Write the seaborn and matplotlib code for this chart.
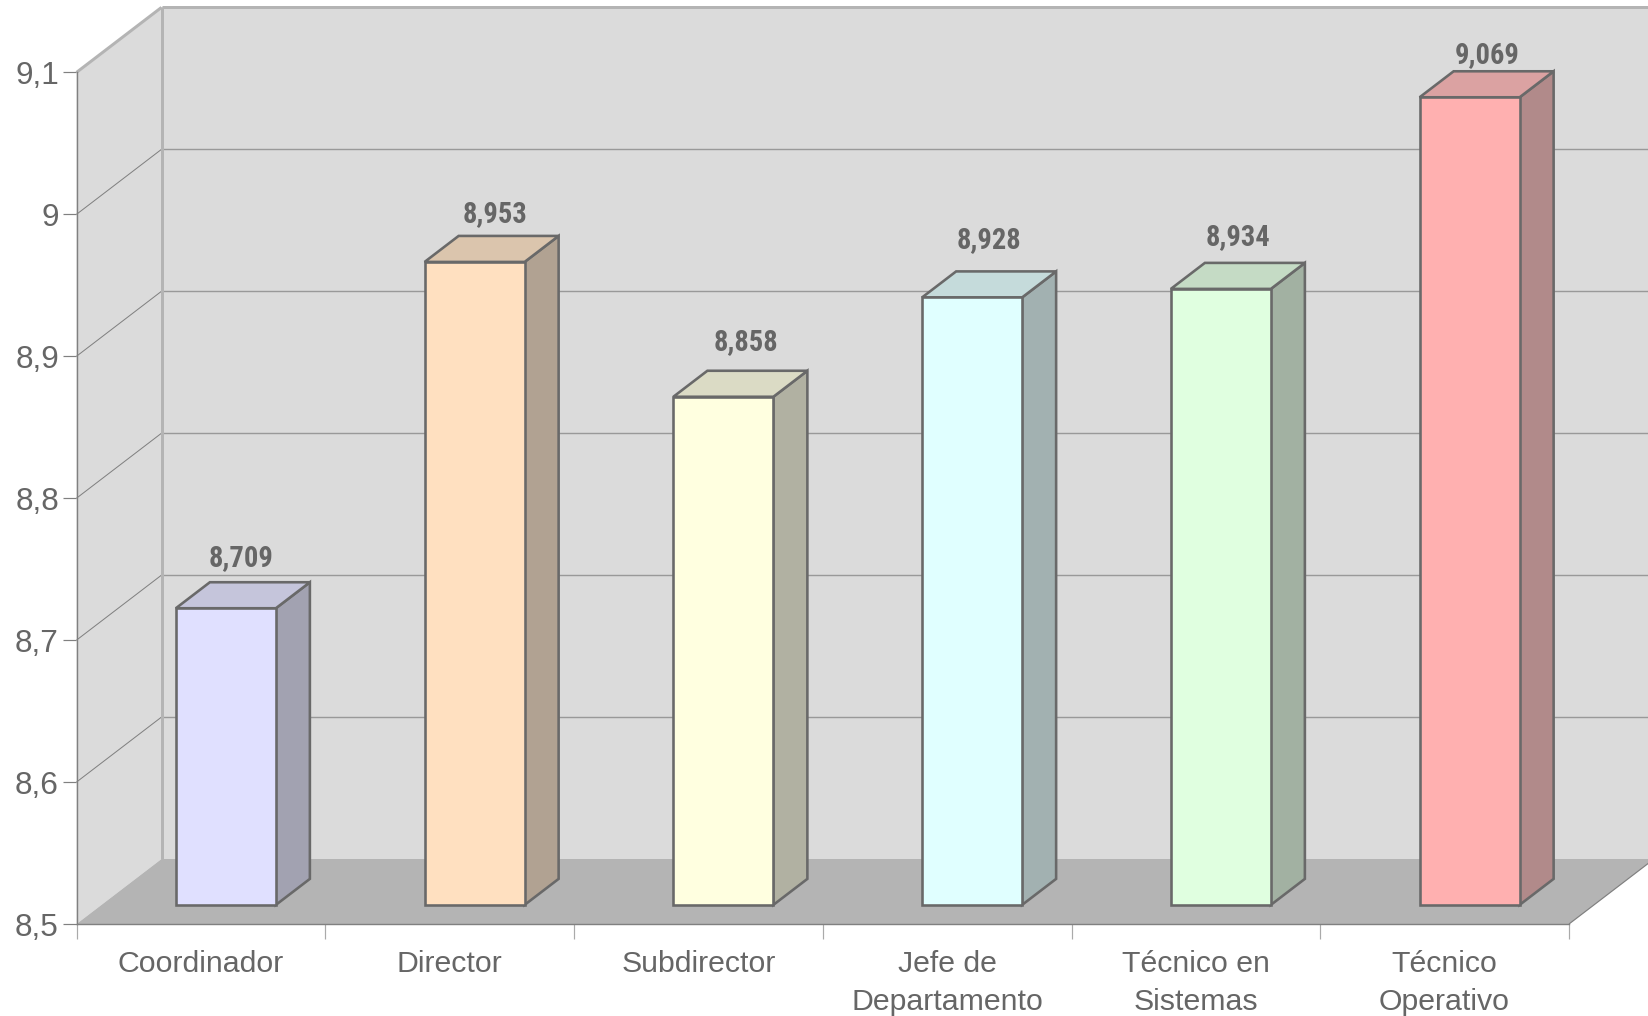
import matplotlib
matplotlib.use("Agg")
import matplotlib.pyplot as plt
import seaborn as sns
import pandas as pd
from matplotlib.patches import Polygon
from matplotlib.colors import to_rgb

categories = ["Coordinador", "Director", "Subdirector", "Jefe de\nDepartamento",
              "Técnico en\nSistemas", "Técnico\nOperativo"]
values = [8.709, 8.953, 8.858, 8.928, 8.934, 9.069]
value_labels = ["8,709", "8,953", "8,858", "8,928", "8,934", "9,069"]
y_ticks = [8.5, 8.6, 8.7, 8.8, 8.9, 9.0, 9.1]
y_tick_labels = ["8,5", "8,6", "8,7", "8,8", "8,9", "9", "9,1"]
front_colors = ["#e0e0ff", "#ffe0c0", "#ffffe0", "#e0ffff", "#e0ffe0", "#ffb0b0"]

W, H, DPI = 1648, 1016, 100
PX = 72 / DPI
L, R, B, T = 76.5, 1569.0, 924.0, 72.4
TEXT = "#666666"
EDGE = "#696969"

sns.set_style("white")
plt.rcParams["font.family"] = ["Liberation Sans", "DejaVu Sans"]

fig = plt.figure(figsize=(W / DPI, H / DPI), dpi=DPI, facecolor="white")
ax = fig.add_axes([L / W, 1 - B / H, (R - L) / W, (B - T) / H])
ax.patch.set_visible(False)

df = pd.DataFrame({"cat": categories, "val": values})
sns.barplot(data=df, x="cat", y="val", hue="cat", palette=front_colors, width=0.402,
            dodge=False, legend=False, saturation=1, edgecolor=EDGE, linewidth=2.6 * PX,
            ax=ax, zorder=6)
bars = sorted(ax.patches, key=lambda b: b.get_x())
ax.set_xlim(-0.5, 5.5)
ax.set_ylim(8.5, 9.1)
ax.set_xlabel("")
ax.set_ylabel("")

# depth of the box, in data units
unit_x = (R - L) / 6
unit_y = (B - T) / 0.6
DX, DY = 85 / unit_x, 65 / unit_y


def pt(x, y, d):
    return (x + d * DX, y + d * DY)


def poly(points, **kw):
    kw.setdefault("clip_on", False)
    ax.add_patch(Polygon(points, closed=True, **kw))


x0, x1, y0, y1 = -0.5, 5.5, 8.5, 9.1
WALL, FLOOR, BORDER, GRID = "#dbdbdb", "#b4b4b4", "#b4b4b4", "#999999"
# walls and floor
poly([pt(x0, y0, 1), pt(x1, y0, 1), pt(x1, y1, 1), pt(x0, y1, 1)], fc=WALL, ec="none", zorder=1)
poly([pt(x0, y0, 0), pt(x0, y0, 1), pt(x0, y1, 1), pt(x0, y1, 0)], fc=WALL, ec="none", zorder=1)
poly([pt(x0, y0, 0), pt(x1, y0, 0), pt(x1, y0, 1), pt(x0, y0, 1)], fc=FLOOR, ec="none", zorder=1.5)


def seg(a, b, **kw):
    ax.plot([a[0], b[0]], [a[1], b[1]], clip_on=False, solid_capstyle="butt", **kw)


for yt in y_ticks[1:-1]:
    seg(pt(x0, yt, 1), pt(x1, yt, 1), color=GRID, lw=1.4 * PX, zorder=2)
    seg(pt(x0, yt, 0), pt(x0, yt, 1), color="#808080", lw=1.0 * PX, zorder=2)
seg(pt(x0, y0, 1), pt(x0, y1, 1), color=BORDER, lw=3 * PX, zorder=2.2)
seg(pt(x0, y1, 1), pt(x1, y1, 1), color=BORDER, lw=3 * PX, zorder=2.2)
seg(pt(x0, y1, 0), pt(x0, y1, 1), color=BORDER, lw=3 * PX, zorder=2.2)
seg(pt(x1, y0, 0), pt(x1, y0, 1), color="#808080", lw=1.2 * PX, zorder=2.2)

# bars: shift the seaborn faces into the box and add side and top faces
D_FRONT, D_BACK = 25 / 85, 59 / 85
label_dx = [15, 20, 23, 17, 17, 18]
label_dy = [24, 22, 29, 32, 26, 17]
for i, (bar, val) in enumerate(zip(bars, values)):
    xl = bar.get_x()
    xr = xl + bar.get_width()
    rgb = to_rgb(front_colors[i])
    bar.set_x(xl + D_FRONT * DX)
    bar.set_y(y0 + D_FRONT * DY)
    bar.set_height(val - y0)
    bar.set_clip_on(False)
    bar.set_joinstyle("miter")
    side = tuple(c * 0.49 + 0.204 for c in rgb)
    top = tuple(c * 0.73 + 0.13 for c in rgb)
    poly([pt(xr, y0, D_FRONT), pt(xr, y0, D_BACK), pt(xr, val, D_BACK), pt(xr, val, D_FRONT)],
         fc=side, ec=EDGE, lw=2.6 * PX, zorder=5, joinstyle="miter")
    poly([pt(xl, val, D_FRONT), pt(xr, val, D_FRONT), pt(xr, val, D_BACK), pt(xl, val, D_BACK)],
         fc=top, ec=EDGE, lw=2.6 * PX, zorder=5, joinstyle="miter")
    ax.annotate(value_labels[i], xy=pt((xl + xr) / 2, val, D_FRONT),
                xytext=(label_dx[i] * PX, (label_dy[i] + 25.7) * PX), textcoords="offset points",
                ha="center", va="center", fontsize=28.5 * PX, fontweight="bold", color=TEXT,
                family=["Roboto Condensed", "Archivo Narrow", "Liberation Sans"], zorder=7,
                annotation_clip=False)

# axes
sns.despine(ax=ax, top=True, right=True)
for s in ("left", "bottom"):
    ax.spines[s].set_color("#808080")
    ax.spines[s].set_linewidth(1.4 * PX)
    ax.spines[s].set_zorder(2.4)
ax.set_yticks(y_ticks, y_tick_labels)
ax.tick_params(axis="y", length=14 * PX, width=1.2 * PX, color="#808080", pad=3.5 * PX,
               labelsize=31.5 * PX, labelcolor=TEXT, left=True)
ax.set_xticks([x0 + k for k in range(7)], [""] * 7)
ax.tick_params(axis="x", which="major", length=15 * PX, width=1.2 * PX, color="#aaaaaa", bottom=True)
ax.set_xticks(range(6), categories, minor=True)
ax.tick_params(axis="x", which="minor", length=0, pad=26.5 * PX, labelsize=30.3 * PX, labelcolor=TEXT)
ax.xaxis.get_majorticklines()[0].set_color("#808080")
for lab in ax.get_xticklabels(minor=True):
    lab.set_linespacing(1.42)

fig.savefig("out.png", dpi=DPI, facecolor="white")
